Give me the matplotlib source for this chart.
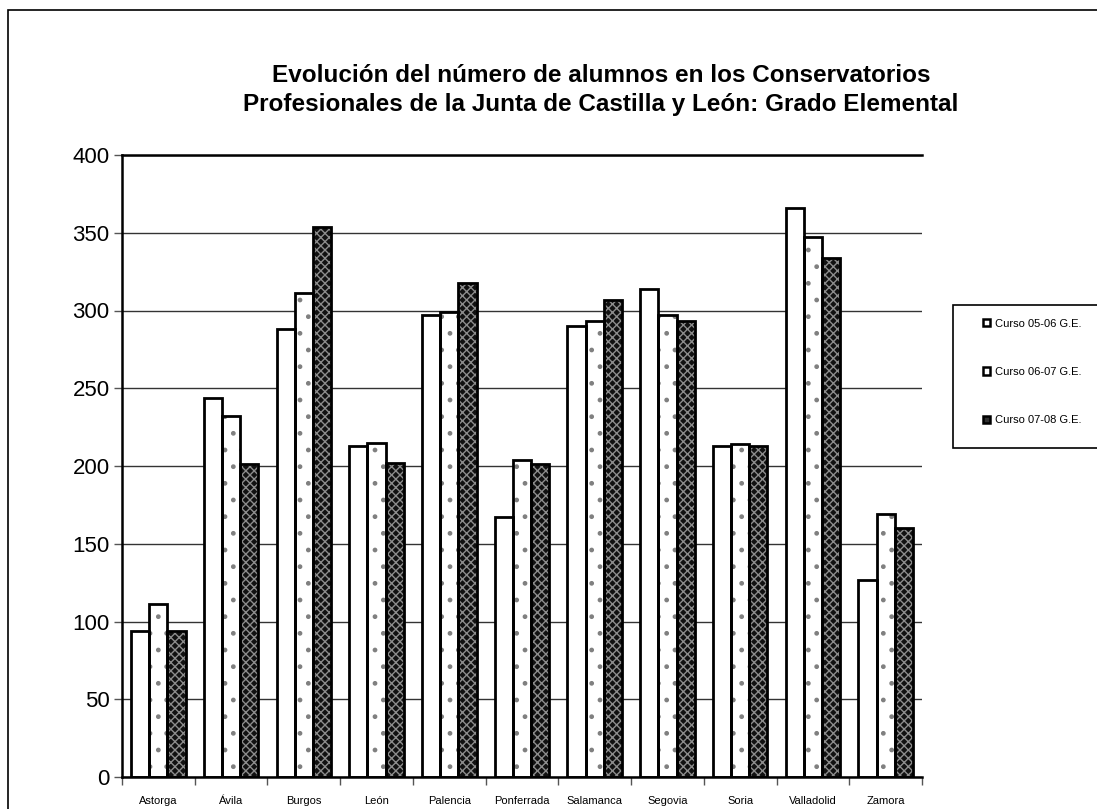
import matplotlib
matplotlib.use("Agg")
import matplotlib.pyplot as plt
import numpy as np
from matplotlib.patches import Rectangle, Patch

plt.rcParams['font.family'] = ['Liberation Sans', 'DejaVu Sans']
plt.rcParams['hatch.linewidth'] = 1.0

categories = ["Astorga", "Ávila", "Burgos", "León", "Palencia", "Ponferrada",
              "Salamanca", "Segovia", "Soria", "Valladolid", "Zamora"]
curso_05_06 = [94, 244, 288, 213, 297, 167, 290, 314, 213, 366, 127]
curso_06_07 = [111, 232, 311, 215, 299, 204, 293, 297, 214, 347, 169]
curso_07_08 = [94, 201, 354, 202, 318, 201, 307, 293, 213, 334, 160]
series_labels = ["Curso 05-06 G.E.", "Curso 06-07 G.E.", "Curso 07-08 G.E."]
title = ("Evolución del número de alumnos en los Conservatorios\n"
         "Profesionales de la Junta de Castilla y León: Grado Elemental")

W, H = 1097, 809
fig = plt.figure(figsize=(W / 100, H / 100), dpi=100)

# outer chart border
fig.patches.append(Rectangle((8 / W, -0.1), 1.2, 1 - 10 / H + 0.1, transform=fig.transFigure,
                             fill=False, edgecolor='black', linewidth=1.2))

left, right, top, bottom = 122, 922, 155, 777
ax = fig.add_axes([left / W, 1 - bottom / H, (right - left) / W, (bottom - top) / H])

x = np.arange(len(categories))
bw = 0.25
styles = [
    dict(facecolor='white', hatch=None, hcolor='white'),
    dict(facecolor='white', hatch='.', hcolor='#808080'),
    dict(facecolor='#111111', hatch='xxxx', hcolor='#8c8c8c'),
]
series = [curso_05_06, curso_06_07, curso_07_08]
for i, (vals, st) in enumerate(zip(series, styles)):
    pos = x + (i - 1) * bw
    if st['hatch']:
        ax.bar(pos, vals, bw, facecolor=st['facecolor'], hatch=st['hatch'],
               edgecolor=st['hcolor'], linewidth=0, zorder=2)
    else:
        ax.bar(pos, vals, bw, facecolor=st['facecolor'], linewidth=0, zorder=2)
    ax.bar(pos, vals, bw, fill=False, edgecolor='black', linewidth=2.0, zorder=3)

ax.set_xlim(-0.5, len(categories) - 0.5)
ax.set_ylim(0, 400)
ax.set_yticks(range(0, 401, 50))
ax.yaxis.grid(True, color='#333333', linewidth=1.0, zorder=0)
ax.set_axisbelow(True)
ax.tick_params(axis='y', direction='out', length=6, width=1, color='#555555',
               labelsize=16, pad=3)
ax.set_xticks(np.arange(-0.5, len(categories), 1.0))
ax.set_xticklabels([])
ax.set_xticks(x, minor=True)
ax.set_xticklabels(categories, minor=True, fontsize=8)
ax.tick_params(axis='x', which='major', direction='out', length=6, width=1, color='#555555')
ax.tick_params(axis='x', which='minor', length=0, pad=14)

for s in ['left', 'bottom', 'top']:
    ax.spines[s].set_color('black')
    ax.spines[s].set_linewidth(1.8)
ax.spines['right'].set_visible(False)

fig.text(601 / W, 1 - 90 / H, title, ha='center', va='center', fontsize=17.5,
         fontweight='bold', linespacing=1.35)

# legend
lx0, ly0, ly1 = 953, 305, 448
fig.patches.append(Rectangle((lx0 / W, 1 - ly1 / H), 0.2, (ly1 - ly0) / H,
                             transform=fig.transFigure, facecolor='white',
                             edgecolor='black', linewidth=1.2, zorder=5))
handles = [
    Patch(facecolor='white', edgecolor='black', linewidth=1.8),
    Patch(facecolor='white', edgecolor='black', linewidth=1.8),
    Patch(facecolor='#303030', edgecolor='black', linewidth=1.8),
]
leg = fig.legend(handles, series_labels, loc='upper left',
                 bbox_to_anchor=(977 / W, 1 - 313 / H), frameon=False,
                 fontsize=8.0, handlelength=0.65, handleheight=0.65,
                 handletextpad=0.45, labelspacing=3.45, borderpad=0)
leg.set_zorder(6)

fig.savefig("out.png", dpi=100)
